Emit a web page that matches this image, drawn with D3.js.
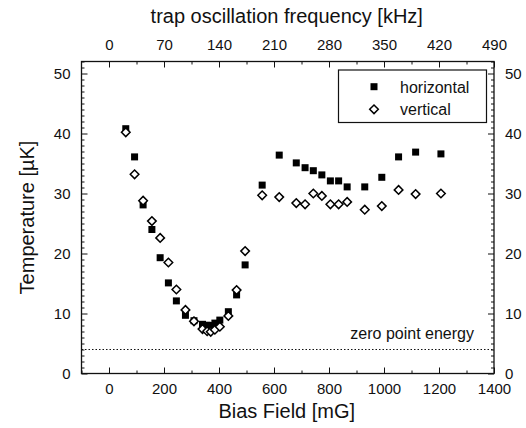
<!DOCTYPE html>
<html>
<head>
<meta charset="utf-8">
<script src="https://cdn.jsdelivr.net/npm/d3@7"></script>
<style>
  body { margin: 0; background: #fff; }
  text { font-family: "Liberation Sans", Arial, sans-serif; fill: #111; }
</style>
</head>
<body>
<div id="chart"></div>
<script>
// bias field [mG] and temperature [uK]
var biasH = [61, 93, 124, 156, 186, 216, 245, 278, 309, 340, 357, 370, 385, 403, 434, 464, 495,
             557, 619, 681, 713, 743, 774, 805, 835, 866, 930, 992, 1053, 1115, 1207];
var tempH = [40.8, 36.1, 28.1, 24.0, 19.3, 15.1, 12.1, 9.7, 8.8, 8.2, 8.05, 8.0, 8.4, 8.9, 10.3, 13.1, 18.1,
             31.4, 36.4, 35.1, 34.3, 33.8, 33.1, 32.1, 32.1, 31.1, 31.1, 32.7, 36.1, 36.9, 36.6];
var biasV = [61, 93, 124, 156, 186, 216, 245, 278, 309, 340, 357, 370, 385, 403, 434, 464, 495,
             557, 619, 681, 713, 743, 774, 805, 835, 866, 930, 992, 1053, 1115, 1207];
var tempV = [40.2, 33.2, 28.8, 25.4, 22.6, 18.5, 14.0, 10.6, 8.7, 7.4, 7.05, 6.95, 7.3, 7.8, 9.6, 13.9, 20.4,
             29.7, 29.4, 28.4, 28.2, 30.0, 29.6, 28.2, 28.2, 28.6, 27.3, 27.9, 30.6, 29.9, 30.0];
var zeroPoint = 4.0;
var xTicks = [0, 200, 400, 600, 800, 1000, 1200, 1400];
var topTicks = [0, 70, 140, 210, 280, 350, 420, 490];
var yTicks = [0, 10, 20, 30, 40, 50];

var W = 526, H = 428;
var margin = { top: 61.5, right: 32, bottom: 54.5, left: 81.5 },
  width = W - margin.left - margin.right,
  height = H - margin.top - margin.bottom;

var svg = d3.select("#chart").append("svg")
  .attr("width", W).attr("height", H);
var g = svg.append("g")
  .attr("transform", "translate(" + margin.left + "," + margin.top + ")");

var x = d3.scaleLinear().domain([-100, 1400]).range([0, width]);
var xTop = d3.scaleLinear().domain([-35, 490]).range([0, width]);
var y = d3.scaleLinear().domain([0, 52]).range([height, 0]);

// minor ticks first
var xMinor = d3.range(-100, 1401, 100).filter(function (d) { return xTicks.indexOf(d) < 0; });
var topMinor = d3.range(35, 490, 70);
var yMinor = d3.range(0, 53, 1).filter(function (d) { return yTicks.indexOf(d) < 0; });

function minor(sel, axis, vals) {
  sel.call(axis.tickValues(vals).tickSize(-3).tickFormat(""));
  sel.select(".domain").remove();
}
g.append("g").attr("transform", "translate(0," + height + ")")
  .call(minor, d3.axisBottom(x), xMinor);
g.append("g").call(minor, d3.axisTop(xTop), topMinor);
g.append("g").call(minor, d3.axisLeft(y), yMinor);
g.append("g").attr("transform", "translate(" + width + ",0)")
  .call(minor, d3.axisRight(y), yMinor);

// major ticks
var fmt = d3.format("d");
var ax = [];
ax.push(g.append("g").attr("transform", "translate(0," + height + ")")
  .call(d3.axisBottom(x).tickValues(xTicks).tickFormat(fmt).tickSize(-6).tickPadding(10)));
ax.push(g.append("g")
  .call(d3.axisTop(xTop).tickValues(topTicks).tickFormat(fmt).tickSize(-6).tickPadding(12)));
ax.push(g.append("g")
  .call(d3.axisLeft(y).tickValues(yTicks).tickFormat(fmt).tickSize(-6).tickPadding(11)));
ax.push(g.append("g").attr("transform", "translate(" + width + ",0)")
  .call(d3.axisRight(y).tickValues(yTicks).tickFormat(fmt).tickSize(-6).tickPadding(11)));
ax.forEach(function (a) {
  a.select(".domain").remove();
  a.selectAll("text").style("font-size", "15px")
    .style("font-family", "'Liberation Sans', Arial, sans-serif").attr("fill", "#111");
});
g.selectAll(".tick line").attr("stroke", "#111").attr("stroke-width", 1);

// frame
g.append("rect").attr("width", width).attr("height", height)
  .attr("fill", "none").attr("stroke", "#111").attr("stroke-width", 1.3);

// zero point energy line
g.append("line")
  .attr("x1", 0).attr("x2", width)
  .attr("y1", y(zeroPoint)).attr("y2", y(zeroPoint))
  .attr("stroke", "#111").attr("stroke-width", 1.2)
  .attr("stroke-dasharray", "1.5,2");
g.append("text")
  .attr("x", width - 20).attr("y", y(zeroPoint) - 11)
  .attr("text-anchor", "end")
  .style("font-size", "16px")
  .text("zero point energy");

// data
var dataH = biasH.map(function (b, i) { return { b: b, t: tempH[i] }; });
var dataV = biasV.map(function (b, i) { return { b: b, t: tempV[i] }; });
var sq = 7, dm = 4.3;

g.selectAll(".sq").data(dataH).enter().append("rect")
  .attr("class", "sq")
  .attr("x", function (d) { return x(d.b) - sq / 2; })
  .attr("y", function (d) { return y(d.t) - sq / 2; })
  .attr("width", sq).attr("height", sq)
  .attr("fill", "#000");

function diamond(cx, cy) {
  return "M" + cx + "," + (cy - dm) + "L" + (cx + dm) + "," + cy +
    "L" + cx + "," + (cy + dm) + "L" + (cx - dm) + "," + cy + "Z";
}
g.selectAll(".dm").data(dataV).enter().append("path")
  .attr("class", "dm")
  .attr("d", function (d) { return diamond(x(d.b), y(d.t)); })
  .attr("fill", "#fff").attr("stroke", "#000").attr("stroke-width", 1.5);

// legend
var lg = g.append("g").attr("transform", "translate(" + (338.5 - margin.left) + "," + (70 - margin.top) + ")");
lg.append("rect").attr("width", 148).attr("height", 52.5)
  .attr("fill", "#fff").attr("stroke", "#111").attr("stroke-width", 1.2);
lg.append("rect").attr("x", 35.5 - sq / 2).attr("y", 16.7 - sq / 2)
  .attr("width", sq).attr("height", sq).attr("fill", "#000");
lg.append("path").attr("d", diamond(35.5, 39.3))
  .attr("fill", "#fff").attr("stroke", "#000").attr("stroke-width", 1.5);
lg.append("text").attr("x", 61.5).attr("y", 22.5).style("font-size", "16px").text("horizontal");
lg.append("text").attr("x", 61.5).attr("y", 45).style("font-size", "16px").text("vertical");

// titles
svg.append("text")
  .attr("x", margin.left + width / 2 - 1).attr("y", 418)
  .attr("text-anchor", "middle").style("font-size", "20px")
  .text("Bias Field [mG]");
svg.append("text")
  .attr("x", margin.left + width / 2 - 1).attr("y", 23)
  .attr("text-anchor", "middle").style("font-size", "20px")
  .text("trap oscillation frequency [kHz]");
svg.append("text")
  .attr("transform", "translate(34," + (margin.top + height / 2) + ") rotate(-90)")
  .attr("text-anchor", "middle").style("font-size", "20px")
  .text("Temperature [µK]");
</script>
</body>
</html>
